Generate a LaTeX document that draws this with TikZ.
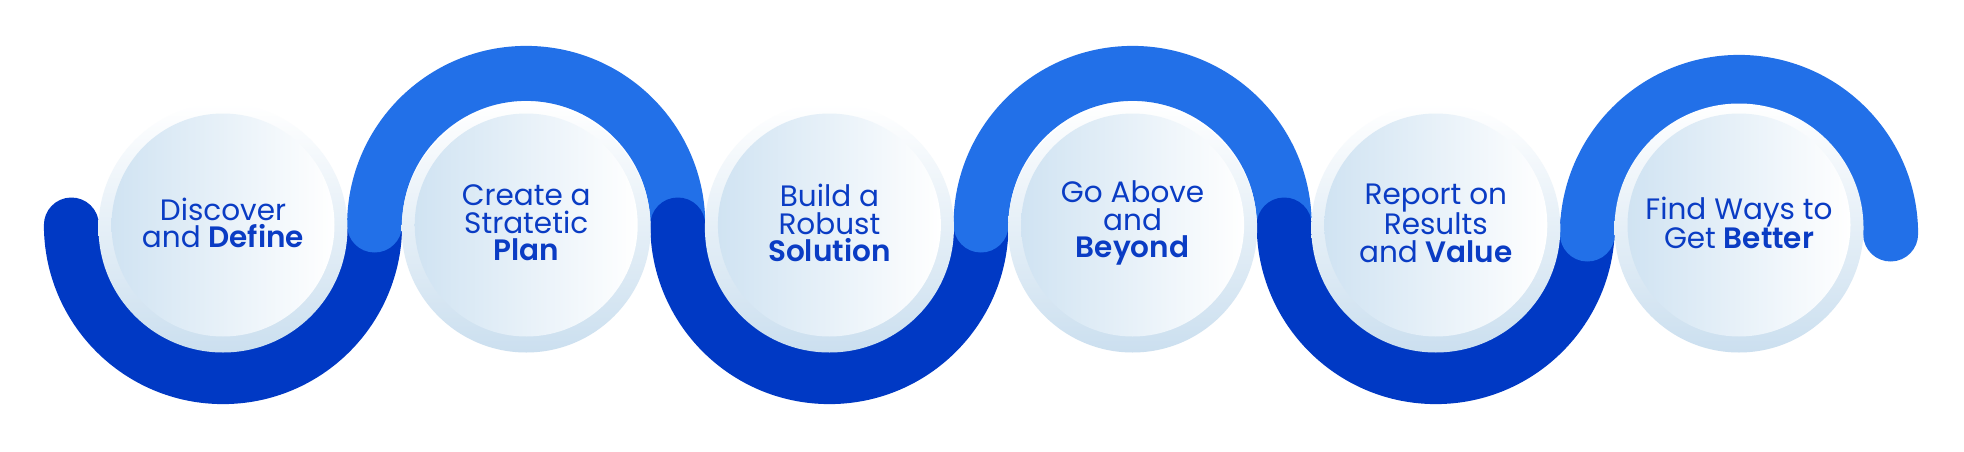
\documentclass[tikz,border=0pt]{standalone}
\usepackage{fontspec}
\setmainfont{Poppins}[BoldFont={Poppins SemiBold}]
\definecolor{darkb}{HTML}{0039C4}
\definecolor{lightb}{HTML}{2270E8}
\definecolor{ringb}{HTML}{CBDFEF}
\definecolor{innerb}{HTML}{D0E3F2}
\definecolor{txtb}{HTML}{0A3CC4}
\begin{document}
\begin{tikzpicture}[x=1pt,y=-1pt,
 darkarc/.style={draw=darkb, line width=55pt, line cap=round},
 lightarc/.style={draw=lightb, line width=55pt, line cap=round},
 ring/.style={circle, minimum size=249pt, inner sep=0pt, top color=white, bottom color=ringb},
 disc/.style={circle, minimum size=223pt, inner sep=0pt, left color=innerb, right color=white},
 lbl/.style={text=txtb, align=center, inner sep=0pt, font=\fontsize{29.5}{27.5}\selectfont},
]
\useasboundingbox (0,0) rectangle (1964,452);
\fill[white] (0,0) rectangle (1964,452);
% joints
\coordinate (p0) at (71.4,225);
\coordinate (p1) at (374.6,225);
\coordinate (p2) at (677.8,225);
\coordinate (p3) at (981.0,225);
\coordinate (p4) at (1284.2,225);
\coordinate (p5) at (1587.4,225);
\coordinate (q5) at (1587.4,234);
% arcs
\draw[darkarc] (p0) arc[start angle=180, end angle=360, radius=151.6pt];
\draw[lightarc] (p1) arc[start angle=180, end angle=0, radius=151.6pt];
\draw[darkarc] (p2) arc[start angle=180, end angle=360, radius=151.6pt];
\draw[lightarc] (p3) arc[start angle=180, end angle=0, radius=151.6pt];
\draw[darkarc] (p4) arc[start angle=180, end angle=360, radius=151.6pt];
\draw[lightarc] (q5) arc[start angle=180, end angle=0, radius=151.6pt];
% circles
\foreach \i/\x in {1/223,2/526.2,3/829.4,4/1132.6,5/1435.8,6/1739}{
  \node[ring] (r\i) at (\x,228) {};
  \node[disc] (c\i) at (\x,225) {};
}
\node[lbl] (t1) at ([yshift=2pt]c1) {Discover\\and \textbf{Define}};
\node[lbl] (t2) at ([yshift=2pt]c2) {Create a\\Stratetic\\\textbf{Plan}};
\node[lbl] (t3) at ([yshift=2pt]c3) {Build a\\Robust\\\textbf{Solution}};
\node[lbl] (t4) at ([yshift=2pt]c4) {Go Above\\and\\\textbf{Beyond}};
\node[lbl] (t5) at ([yshift=2pt]c5) {Report on\\Results\\and \textbf{Value}};
\node[lbl] (t6) at ([yshift=2pt]c6) {Find Ways to\\Get \textbf{Better}};
\end{tikzpicture}
\end{document}
